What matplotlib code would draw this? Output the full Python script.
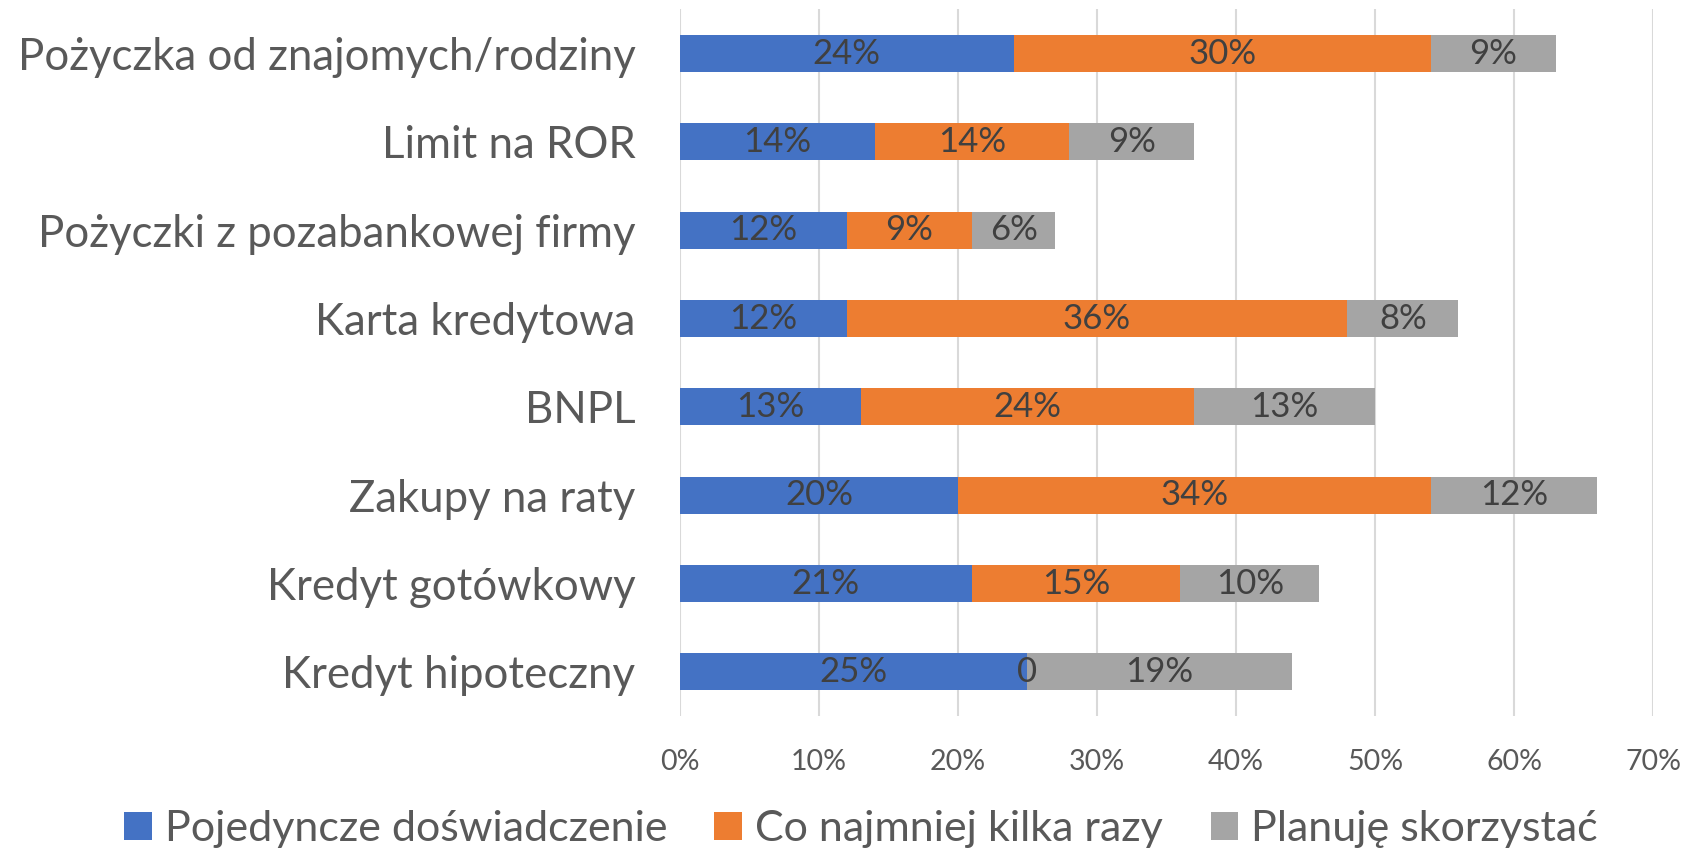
import matplotlib
matplotlib.use("Agg")
import matplotlib.pyplot as plt
import numpy as np

plt.rcParams['font.family'] = ['Lato', 'DejaVu Sans']

categories = ["Pożyczka od znajomych/rodziny", "Limit na ROR",
              "Pożyczki z pozabankowej firmy", "Karta kredytowa", "BNPL",
              "Zakupy na raty", "Kredyt gotówkowy", "Kredyt hipoteczny"]
series_names = ["Pojedyncze doświadczenie", "Co najmniej kilka razy",
                "Planuję skorzystać"]
single = [24, 14, 12, 12, 13, 20, 21, 25]
several = [30, 14, 9, 36, 24, 34, 15, 0]
planned = [9, 9, 6, 8, 13, 12, 10, 19]
colors = ["#4472C4", "#ED7D31", "#A5A5A5"]
x_ticks = [0, 10, 20, 30, 40, 50, 60, 70]

fig = plt.figure(figsize=(16.88, 8.52), dpi=100)
ax = fig.add_axes([0.4028, 0.1596, 0.5765, 0.8294])

y = np.arange(len(categories))
left = np.zeros(len(categories))
for name, vals, col in zip(series_names, [single, several, planned], colors):
    vals = np.array(vals, dtype=float)
    bars = ax.barh(y, vals, left=left, height=0.42, color=col, label=name,
                   zorder=3)
    for b, v in zip(bars, vals):
        if v == 0:
            # excel shows "0" for the empty segment
            txt = "0"
        else:
            txt = "%d%%" % v
        ax.text(b.get_x() + b.get_width() / 2, b.get_y() + b.get_height() / 2,
                txt, ha='center', va='center', fontsize=25, color='#404040',
                zorder=4)
    left += vals

ax.set_ylim(len(categories) - 0.5, -0.5)
ax.set_xlim(0, 70)
ax.set_yticks(y)
ax.set_yticklabels(categories, fontsize=31.5, color='#595959')
ax.set_xticks(x_ticks)
ax.set_xticklabels(["%d%%" % t for t in x_ticks], fontsize=20.5, color='#595959')
ax.tick_params(axis='y', length=0, pad=32)
ax.tick_params(axis='x', length=0, pad=24)
ax.xaxis.grid(True, color='#d9d9d9', linewidth=1.5, zorder=0)
for s in ax.spines.values():
    s.set_visible(False)

fig.legend(loc='center', bbox_to_anchor=(0.51, 0.027), ncol=3, frameon=False,
           fontsize=31, handlelength=0.65, handleheight=0.65, handletextpad=0.3,
           columnspacing=1.1, labelcolor='#595959')

fig.savefig("out.png", dpi=100)
